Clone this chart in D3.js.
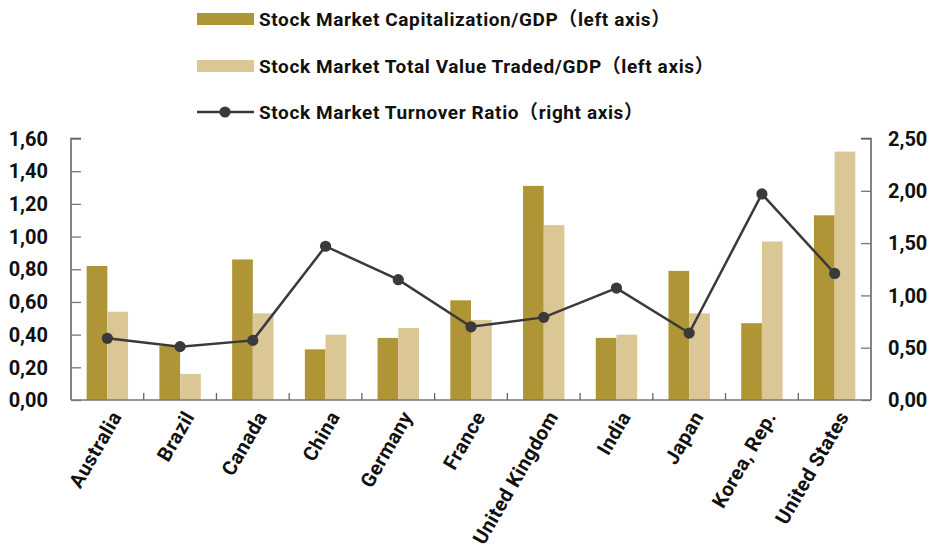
<!DOCTYPE html>
<html><head><meta charset="utf-8">
<script src="https://cdn.jsdelivr.net/npm/d3@7"></script>
<style>
body{margin:0;background:#fff;}
svg text{font-family:Roboto,"Noto Sans CJK SC",sans-serif;font-weight:700;fill:#111;}
</style></head>
<body><svg id="c" width="936" height="549"></svg>
<script>
const categories = ["Australia","Brazil","Canada","China","Germany","France","United Kingdom","India","Japan","Korea, Rep.","United States"];
const capGDP   = [0.82,0.33,0.86,0.31,0.38,0.61,1.31,0.38,0.79,0.47,1.13];
const tradedGDP= [0.54,0.16,0.53,0.40,0.44,0.49,1.07,0.40,0.53,0.97,1.52];
const turnover = [0.59,0.51,0.57,1.47,1.15,0.70,0.79,1.07,0.64,1.97,1.21];
const leftTicks = [0,0.2,0.4,0.6,0.8,1.0,1.2,1.4,1.6];
const rightTicks = [0,0.5,1.0,1.5,2.0,2.5];
const seriesNames = ["Stock Market Capitalization/GDP（left axis）","Stock Market Total Value Traded/GDP（left axis）","Stock Market Turnover Ratio（right axis）"];

const svg = d3.select("#c");
const L=71, R=871, T=138.5, B=400;
const fmt = v => v.toFixed(2).replace(".", ",");
const x = d3.scaleBand().domain(categories).range([L,R]).paddingInner(0).paddingOuter(0);
const yL = d3.scaleLinear().domain([0,1.6]).range([B,T]);
const yR = d3.scaleLinear().domain([0,2.5]).range([B,T]);
const barW = 20.7;
const cDark="#b09537", cLight="#dbc696", cLine="#3a3a3a";

// bars
const g = svg.append("g");
g.selectAll(".b1").data(categories).join("rect")
  .attr("x", d=>x(d)+x.bandwidth()/2-barW).attr("width", barW)
  .attr("y", (d,i)=>yL(capGDP[i])).attr("height",(d,i)=>B-yL(capGDP[i])).attr("fill",cDark);
g.selectAll(".b2").data(categories).join("rect")
  .attr("x", d=>x(d)+x.bandwidth()/2).attr("width", barW)
  .attr("y", (d,i)=>yL(tradedGDP[i])).attr("height",(d,i)=>B-yL(tradedGDP[i])).attr("fill",cLight);

// axes
const axL = svg.append("g").attr("transform",`translate(${L},0)`)
  .call(d3.axisRight(yL).tickValues(leftTicks).tickSize(10).tickFormat(""));
axL.select(".domain").attr("stroke","#444").attr("stroke-width",1.3).attr("d",`M10,${T}H0V${B}`);
axL.selectAll(".tick line").attr("stroke","#777").attr("stroke-width",1.3);
const axR = svg.append("g").attr("transform",`translate(${R},0)`)
  .call(d3.axisLeft(yR).tickValues(rightTicks).tickSize(10).tickFormat(""));
axR.select(".domain").attr("stroke","#444").attr("stroke-width",1.3).attr("d",`M-10,${T}H0V${B}`);
axR.selectAll(".tick line").attr("stroke","#777").attr("stroke-width",1.3);

// left/right labels
svg.append("g").selectAll("text").data(leftTicks).join("text")
  .attr("x",48).attr("y",d=>yL(d)).attr("dy","0.36em").attr("text-anchor","end")
  .attr("font-size",20).text(fmt);
svg.append("g").selectAll("text").data(rightTicks).join("text")
  .attr("x",888).attr("y",d=>yR(d)).attr("dy","0.36em").attr("text-anchor","start")
  .attr("font-size",20).text(fmt);

// x axis
const boundaries = categories.slice(1).map(c=>x(c));
svg.append("line").attr("x1",L).attr("x2",R).attr("y1",B).attr("y2",B).attr("stroke","#777").attr("stroke-width",1.5);
svg.append("g").selectAll("line").data(boundaries).join("line")
  .attr("x1",d=>d).attr("x2",d=>d).attr("y1",B).attr("y2",B-7).attr("stroke","#666").attr("stroke-width",1.3);
svg.append("g").selectAll("text").data(categories).join("text")
  .attr("transform",d=>`translate(${x(d)+x.bandwidth()/2+9},${B+13}) rotate(-60)`)
  .attr("text-anchor","end").attr("dy","0.35em").attr("font-size",20).attr("letter-spacing",0.4).text(d=>d);

// line
const line = d3.line().x((d,i)=>x(categories[i])+x.bandwidth()/2).y(d=>yR(d));
svg.append("path").datum(turnover).attr("d",line).attr("fill","none").attr("stroke",cLine).attr("stroke-width",2.5);
svg.append("g").selectAll("circle").data(turnover).join("circle")
  .attr("cx",(d,i)=>x(categories[i])+x.bandwidth()/2).attr("cy",d=>yR(d)).attr("r",5.6).attr("fill",cLine);

// legend
const lg = svg.append("g");
const ly = [19,66,112];
lg.append("rect").attr("x",197).attr("y",ly[0]-6).attr("width",57).attr("height",12).attr("fill",cDark);
lg.append("rect").attr("x",197).attr("y",ly[1]-6).attr("width",57).attr("height",12).attr("fill",cLight);
lg.append("line").attr("x1",197).attr("x2",254).attr("y1",ly[2]).attr("y2",ly[2]).attr("stroke",cLine).attr("stroke-width",2.5);
lg.append("circle").attr("cx",225).attr("cy",ly[2]).attr("r",5.6).attr("fill",cLine);
lg.selectAll("text").data(seriesNames).join("text")
  .attr("x",259).attr("y",(d,i)=>ly[i]).attr("dy","0.36em").attr("font-size",19).attr("letter-spacing",0.6).text(d=>d);
</script></body></html>
